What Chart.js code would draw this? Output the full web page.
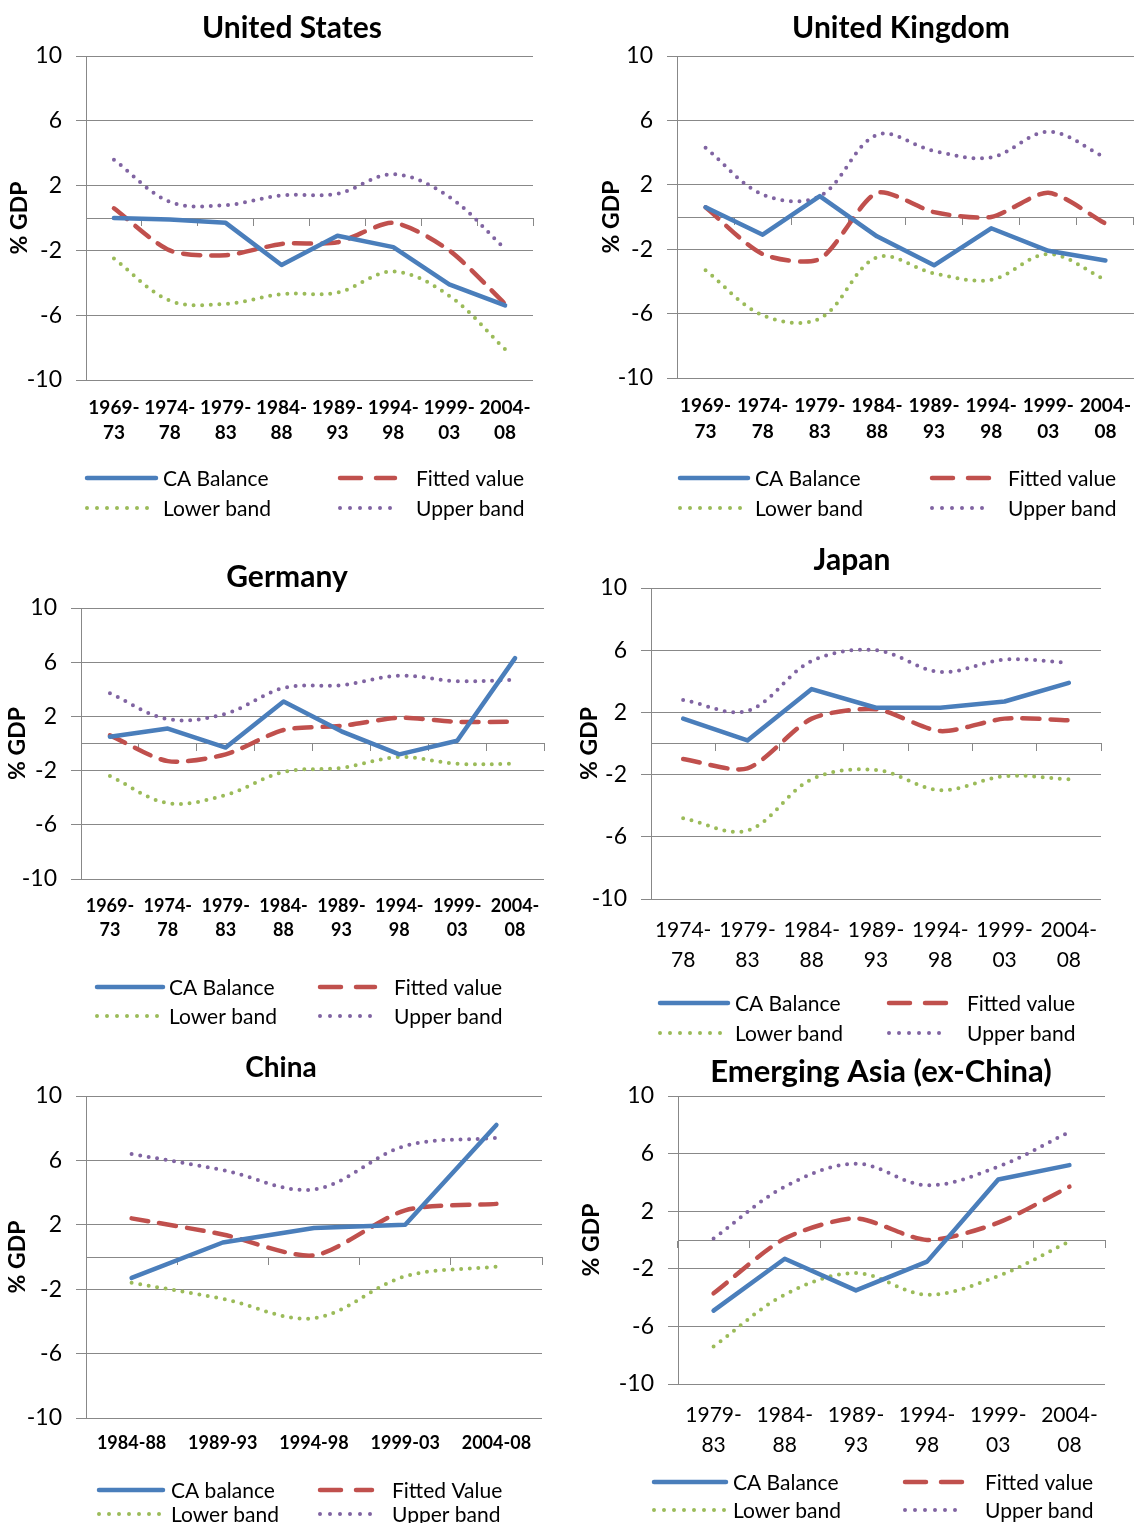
<!DOCTYPE html>
<html>
<head>
<meta charset="utf-8">
<title>Current account balances and fitted norms</title>
<script src="https://cdn.jsdelivr.net/npm/chart.js@4.4.1/dist/chart.umd.min.js"></script>
<style>
  html, body { margin: 0; padding: 0; background: #fff; }
  #page { position: relative; width: 1146px; height: 1523px; overflow: hidden; background: #fff; }
  canvas { position: absolute; }
</style>
</head>
<body>
<div id="page"></div>
<script>
// ---- Data (% of GDP, five-year averages) ----
const yTicks = [-10, -6, -2, 2, 6, 10];

const usPeriods = [["1969-","73"],["1974-","78"],["1979-","83"],["1984-","88"],["1989-","93"],["1994-","98"],["1999-","03"],["2004-","08"]];
const usCA     = [0.0, -0.1, -0.3, -2.9, -1.1, -1.8, -4.1, -5.4];
const usFitted = [0.6, -2.0, -2.3, -1.6, -1.5, -0.3, -2.0, -5.3];
const usLower  = [-2.5, -5.1, -5.3, -4.7, -4.6, -3.3, -4.8, -8.1];
const usUpper  = [3.6, 1.0, 0.8, 1.4, 1.5, 2.7, 1.3, -1.9];

const ukPeriods = [["1969-","73"],["1974-","78"],["1979-","83"],["1984-","88"],["1989-","93"],["1994-","98"],["1999-","03"],["2004-","08"]];
const ukCA     = [0.6, -1.1, 1.3, -1.2, -3.0, -0.7, -2.1, -2.7];
const ukFitted = [0.6, -2.3, -2.6, 1.5, 0.3, 0.0, 1.5, -0.4];
const ukLower  = [-3.3, -6.1, -6.3, -2.5, -3.5, -3.9, -2.3, -3.9];
const ukUpper  = [4.3, 1.4, 1.3, 5.1, 4.1, 3.7, 5.3, 3.7];

const dePeriods = [["1969-","73"],["1974-","78"],["1979-","83"],["1984-","88"],["1989-","93"],["1994-","98"],["1999-","03"],["2004-","08"]];
const deCA     = [0.5, 1.1, -0.3, 3.1, 0.9, -0.8, 0.2, 6.3];
const deFitted = [0.6, -1.3, -0.8, 1.0, 1.3, 1.9, 1.6, 1.6];
const deLower  = [-2.4, -4.4, -3.8, -2.1, -1.8, -1.0, -1.5, -1.5];
const deUpper  = [3.7, 1.8, 2.2, 4.1, 4.3, 5.0, 4.6, 4.7];

const jpPeriods = [["1974-","78"],["1979-","83"],["1984-","88"],["1989-","93"],["1994-","98"],["1999-","03"],["2004-","08"]];
const jpCA     = [1.6, 0.2, 3.5, 2.3, 2.3, 2.7, 3.9];
const jpFitted = [-1.0, -1.6, 1.6, 2.2, 0.8, 1.6, 1.5];
const jpLower  = [-4.8, -5.6, -2.3, -1.7, -3.0, -2.1, -2.3];
const jpUpper  = [2.8, 2.1, 5.3, 6.0, 4.6, 5.4, 5.2];

const cnPeriods = ["1984-88", "1989-93", "1994-98", "1999-03", "2004-08"];
const cnCA     = [-1.3, 0.9, 1.8, 2.0, 8.2];
const cnFitted = [2.4, 1.4, 0.1, 2.9, 3.3];
const cnLower  = [-1.6, -2.6, -3.8, -1.2, -0.6];
const cnUpper  = [6.4, 5.4, 4.2, 6.9, 7.4];

const eaPeriods = [["1979-","83"],["1984-","88"],["1989-","93"],["1994-","98"],["1999-","03"],["2004-","08"]];
const eaCA     = [-4.9, -1.3, -3.5, -1.5, 4.2, 5.2];
const eaFitted = [-3.7, 0.1, 1.5, 0.0, 1.2, 3.7];
const eaLower  = [-7.4, -3.8, -2.3, -3.8, -2.5, -0.1];
const eaUpper  = [0.1, 3.7, 5.3, 3.8, 5.1, 7.5];

// ---- Styling ----
const GRID = '#888888';
const BLUE = '#4a7ebb', RED = '#c0504d', GREEN = '#9bbb59', PURPLE = '#8064a2';
const SANS = 'Lato, "Open Sans", sans-serif';

// Title, rotated axis title and a two-column legend drawn on each panel
const decor = {
  id: 'decor',
  afterDraw(chart, args, o) {
    const ctx = chart.ctx;
    const ca = chart.chartArea;
    ctx.save();
    ctx.fillStyle = '#000';
    ctx.textBaseline = 'middle';
    ctx.textAlign = 'center';
    ctx.font = 'bold ' + o.titleSize + 'px ' + SANS;
    ctx.fillText(o.title, o.titleX, o.titleY);

    ctx.save();
    ctx.translate(o.yTitleX, (ca.top + ca.bottom) / 2);
    ctx.rotate(-Math.PI / 2);
    ctx.font = 'bold 23px ' + SANS;
    ctx.fillText('% GDP', 0, 0);
    ctx.restore();

    ctx.textAlign = 'left';
    ctx.font = '21px ' + SANS;
    chart.data.datasets.forEach((ds, i) => {
      const row = Math.floor(i / 2), col = i % 2;
      const y = o.legend.rows[row];
      const c = o.legend.cols[col];
      ctx.save();
      ctx.strokeStyle = ds.borderColor;
      ctx.lineWidth = ds.legendWidth;
      ctx.lineCap = ds.borderCapStyle || 'butt';
      ctx.setLineDash(ds.legendDash || []);
      ctx.beginPath();
      ctx.moveTo(c.x0, y);
      ctx.lineTo(c.x1, y);
      ctx.stroke();
      ctx.restore();
      ctx.fillText(ds.label, c.tx, y + 1);
    });
    ctx.restore();
  }
};

function seriesSet(labels, ca, fitted, lower, upper) {
  return [
    { label: labels[0], data: ca, borderColor: BLUE, borderWidth: 4.5, tension: 0,
      borderCapStyle: 'round', borderJoinStyle: 'round', legendWidth: 4.5 },
    { label: labels[1], data: fitted, borderColor: RED, borderWidth: 4.5, tension: 0.25,
      borderDash: [17, 11], borderCapStyle: 'round', legendWidth: 4.5, legendDash: [21, 15] },
    { label: labels[2], data: lower, borderColor: GREEN, borderWidth: 4, tension: 0.35,
      borderDash: [0, 8.6], borderCapStyle: 'round', legendWidth: 4, legendDash: [0, 10] },
    { label: labels[3], data: upper, borderColor: PURPLE, borderWidth: 4, tension: 0.35,
      borderDash: [0, 8.6], borderCapStyle: 'round', legendWidth: 4, legendDash: [0, 10] }
  ];
}

function buildPanel(p) {
  const cv = document.createElement('canvas');
  cv.width = p.box.w; cv.height = p.box.h;
  cv.style.left = p.box.x + 'px'; cv.style.top = p.box.y + 'px';
  cv.style.width = p.box.w + 'px'; cv.style.height = p.box.h + 'px';
  document.getElementById('page').appendChild(cv);

  const ox = p.box.x, oy = p.box.y;
  const L = p.area.l - ox, T = p.area.t - oy, R = p.area.r - ox, B = p.area.b - oy;
  const lineH = p.xFont.lineHeight;
  const xAxisH = 70;
  const xPad = p.xLabelY - p.area.b - lineH / 2;

  new Chart(cv, {
    type: 'line',
    data: {
      labels: p.labels,
      datasets: seriesSet(p.names, p.ca, p.fitted, p.lower, p.upper).map(d => Object.assign(d, {
        xAxisID: 'x', yAxisID: 'y', pointRadius: 0, fill: false
      }))
    },
    options: {
      responsive: false,
      animation: false,
      devicePixelRatio: 1,
      layout: { padding: { left: 0, top: T, right: p.box.w - R, bottom: p.box.h - B - xAxisH } },
      plugins: {
        legend: { display: false },
        title: { display: false },
        tooltip: { enabled: false },
        decor: {
          title: p.title, titleX: p.titleX - ox, titleY: p.titleY - oy, titleSize: p.titleSize || 30,
          yTitleX: p.yTitleX - ox,
          legend: {
            rows: p.legend.rows.map(v => v - oy),
            cols: p.legend.cols.map(c => ({ x0: c.x0 - ox, x1: c.x1 - ox, tx: c.tx - ox }))
          }
        }
      },
      scales: {
        x: {
          type: 'category', position: 'bottom', offset: true,
          grid: { display: false, drawTicks: false },
          border: { display: false },
          ticks: {
            autoSkip: false, maxRotation: 0, minRotation: 0, padding: xPad, color: '#000',
            font: { family: SANS, size: p.xFont.size, weight: p.xFont.weight, lineHeight: lineH + 'px' }
          },
          afterFit(s) { s.height = xAxisH; }
        },
        x0: {
          type: 'category', position: { y: 0 }, offset: true,
          grid: { offset: true, drawOnChartArea: false, drawTicks: true, tickLength: 7, color: GRID, lineWidth: 1 },
          border: { display: true, color: GRID, width: 1 },
          ticks: { display: false }
        },
        y: {
          type: 'linear', min: -10, max: 10,
          afterBuildTicks(s) { s.ticks = yTicks.map(v => ({ value: v })); },
          grid: { color: GRID, lineWidth: 1, tickLength: 10 },
          border: { display: true, color: GRID, width: 1 },
          ticks: { padding: 14, color: '#000', font: { family: SANS, size: 23 } },
          afterFit(s) { s.width = L; }
        }
      }
    },
    plugins: [decor]
  });
}

const STD_NAMES = ['CA Balance', 'Fitted value', 'Lower band', 'Upper band'];

buildPanel({
  box: { x: 0, y: 0, w: 565, h: 530 }, area: { l: 86, t: 56, r: 533, b: 380 },
  title: 'United States', titleX: 292, titleY: 28, yTitleX: 20,
  labels: usPeriods, ca: usCA, fitted: usFitted, lower: usLower, upper: usUpper, names: STD_NAMES,
  xLabelY: 408, xFont: { size: 19, weight: 'bold', lineHeight: 25 },
  legend: { rows: [478, 508], cols: [{ x0: 87, x1: 156, tx: 163 }, { x0: 340, x1: 395, tx: 416 }] }
});

buildPanel({
  box: { x: 575, y: 0, w: 571, h: 530 }, area: { l: 677, t: 56, r: 1146, b: 378 },
  title: 'United Kingdom', titleX: 901, titleY: 28, yTitleX: 612,
  labels: ukPeriods, ca: ukCA, fitted: ukFitted, lower: ukLower, upper: ukUpper, names: STD_NAMES,
  xLabelY: 406, xFont: { size: 19, weight: 'bold', lineHeight: 26 },
  legend: { rows: [478, 508], cols: [{ x0: 680, x1: 748, tx: 755 }, { x0: 932, x1: 990, tx: 1008 }] }
});

buildPanel({
  box: { x: 0, y: 540, w: 565, h: 500 }, area: { l: 81, t: 608, r: 544, b: 879 },
  title: 'Germany', titleX: 287, titleY: 577, yTitleX: 18,
  labels: dePeriods, ca: deCA, fitted: deFitted, lower: deLower, upper: deUpper, names: STD_NAMES,
  xLabelY: 906, xFont: { size: 18, weight: 'bold', lineHeight: 24 },
  legend: { rows: [987, 1016], cols: [{ x0: 97, x1: 163, tx: 169 }, { x0: 320, x1: 375, tx: 394 }] }
});

buildPanel({
  box: { x: 575, y: 535, w: 571, h: 515 }, area: { l: 651, t: 588, r: 1101, b: 899 },
  title: 'Japan', titleX: 852, titleY: 560, yTitleX: 590,
  labels: jpPeriods, ca: jpCA, fitted: jpFitted, lower: jpLower, upper: jpUpper, names: STD_NAMES,
  xLabelY: 930, xFont: { size: 21, weight: 'normal', lineHeight: 30 },
  legend: { rows: [1003, 1033], cols: [{ x0: 660, x1: 728, tx: 735 }, { x0: 889, x1: 946, tx: 967 }] }
});

buildPanel({
  box: { x: 0, y: 1045, w: 565, h: 478 }, area: { l: 86, t: 1096, r: 542, b: 1418 },
  title: 'China', titleX: 281, titleY: 1068, yTitleX: 18, titleSize: 28,
  labels: cnPeriods, ca: cnCA, fitted: cnFitted, lower: cnLower, upper: cnUpper,
  names: ['CA balance', 'Fitted Value', 'Lower band', 'Upper band'],
  xLabelY: 1443, xFont: { size: 18, weight: 'bold', lineHeight: 24 },
  legend: { rows: [1490, 1514], cols: [{ x0: 99, x1: 163, tx: 171 }, { x0: 320, x1: 372, tx: 392 }] }
});

buildPanel({
  box: { x: 575, y: 1045, w: 571, h: 478 }, area: { l: 678, t: 1096, r: 1105, b: 1384 },
  title: 'Emerging Asia (ex-China)', titleX: 881, titleY: 1072, yTitleX: 592, titleSize: 31,
  labels: eaPeriods, ca: eaCA, fitted: eaFitted, lower: eaLower, upper: eaUpper, names: STD_NAMES,
  xLabelY: 1415, xFont: { size: 21, weight: 'normal', lineHeight: 30 },
  legend: { rows: [1482, 1510], cols: [{ x0: 654, x1: 726, tx: 733 }, { x0: 905, x1: 962, tx: 985 }] }
});
</script>
</body>
</html>
